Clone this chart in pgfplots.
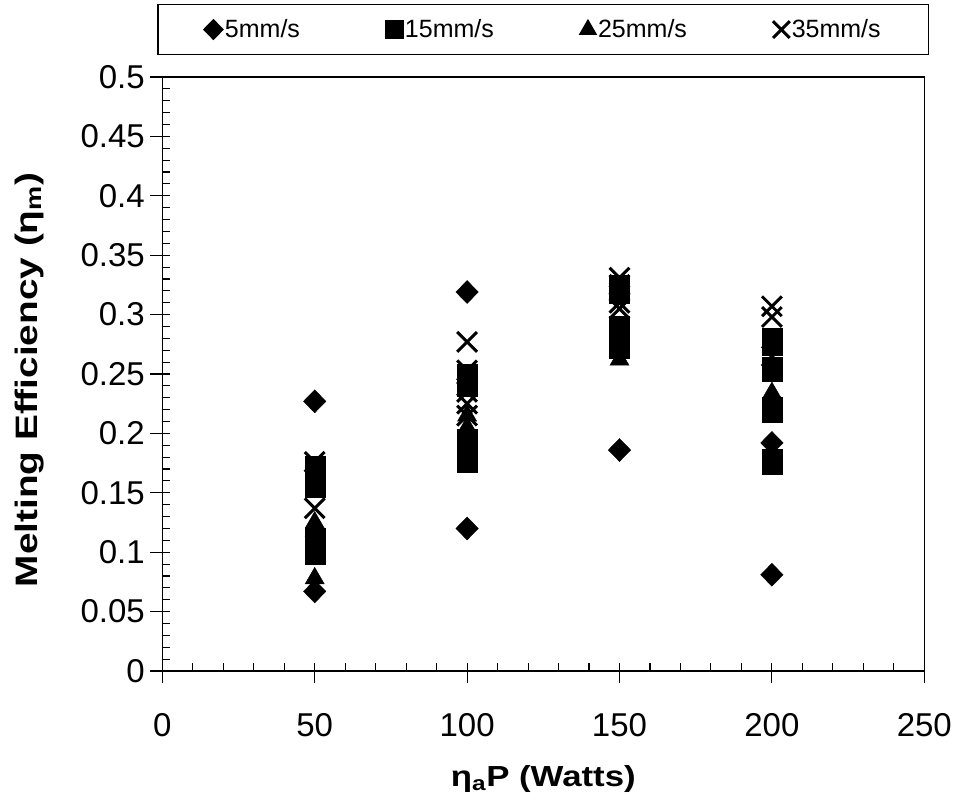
\documentclass[border=0pt]{standalone}
\usepackage{fontspec}
\setmainfont{Liberation Sans}
\usepackage{graphicx}
\usepackage{pgfplots}
\pgfplotsset{compat=1.18}
\begin{document}
\begin{tikzpicture}
\path[use as bounding box] (0,0) rectangle (958pt,805pt);
\begin{axis}[
  at={(162.3pt,134pt)}, anchor=south west,
  scale only axis, width=762pt, height=594pt,
  xmin=0, xmax=250, ymin=0, ymax=0.5,
  xtick={0,50,100,150,200,250},
  ytick={0,0.05,0.1,0.15,0.2,0.25,0.3,0.35,0.4,0.45,0.5},
  minor x tick num=4, minor y tick num=4,
  tick align=inside, tick pos=left,
  major tick length=8pt, minor tick length=8pt,
  extra x ticks={0,50,100,150,200,250}, extra x tick labels={},
  extra x tick style={tick align=outside, major tick length=12pt},
  extra y ticks={0,0.05,0.1,0.15,0.2,0.25,0.3,0.35,0.4,0.45,0.5}, extra y tick labels={},
  extra y tick style={tick align=outside, major tick length=12pt},
  axis line style={line width=1.3pt},
  tick style={line width=1.1pt, black},
  /pgf/number format/assume math mode=true,
  ticklabel style={font=\fontsize{33}{38}\selectfont},
  yticklabel style={/pgf/number format/fixed, /pgf/number format/precision=2, xshift=-14pt},
  xticklabel style={yshift=-39pt},
  xlabel={\scalebox{1.2}[1]{\textbf{η\textsubscript{a}P (Watts)}}},
  ylabel={\scalebox{1.25}[1]{\textbf{Melting Efficiency (η\textsubscript{m})}}},
  every axis x label/.style={at={(axis description cs:0.5,-0.182)}, anchor=center, font=\fontsize{29}{34}\selectfont},
  every axis y label/.style={at={(axis description cs:-0.1736,0.49)}, anchor=center, rotate=90, font=\fontsize{31}{36}\selectfont},
  legend columns=4,
  legend style={at={(axis description cs:0.5,1)}, anchor=south, yshift=22pt,
    draw=black, line width=1.3pt, font=\fontsize{25}{30}\selectfont,
    inner xsep=46pt, inner ysep=13pt,
    /tikz/every even column/.append style={column sep=84pt}},
  legend image code/.code={\draw[#1, every mark/.append style={scale=0.85}] plot coordinates {(4pt,0pt)};},
]
\addplot[only marks, black, mark=diamond*, mark size=11.5pt, mark options={xscale=1.3}]
coordinates {(50,0.227) (50,0.067) (100,0.319) (100,0.12) (150,0.186) (200,0.192) (200,0.081)};
\addlegendentry{5mm/s}
\addplot[only marks, black, mark=square*, mark size=10pt]
coordinates {(50,0.172) (50,0.165) (50,0.16) (50,0.155) (50,0.112) (50,0.105) (50,0.098)
(100,0.25) (100,0.245) (100,0.24) (100,0.195) (100,0.19) (100,0.185) (100,0.18) (100,0.176)
(150,0.325) (150,0.318) (150,0.29) (150,0.284) (150,0.278) (150,0.272)
(200,0.28) (200,0.274) (200,0.256) (200,0.252) (200,0.222) (200,0.218) (200,0.178) (200,0.174)};
\addlegendentry{15mm/s}
\addplot[only marks, black, mark=triangle*, mark size=11pt]
coordinates {(50,0.125) (50,0.118) (50,0.078) (100,0.215) (100,0.205) (100,0.2)
(150,0.268) (150,0.262) (200,0.234) (200,0.228)};
\addlegendentry{25mm/s}
\addplot[only marks, black, mark=x, mark size=14pt, mark options={line width=3pt}]
coordinates {(50,0.176) (50,0.137) (100,0.277) (100,0.253) (100,0.235) (100,0.225) (100,0.215)
(150,0.331) (150,0.325) (150,0.31) (150,0.305) (200,0.307) (200,0.298) (200,0.265)};
\addlegendentry{35mm/s}
\end{axis}
\end{tikzpicture}
\end{document}
